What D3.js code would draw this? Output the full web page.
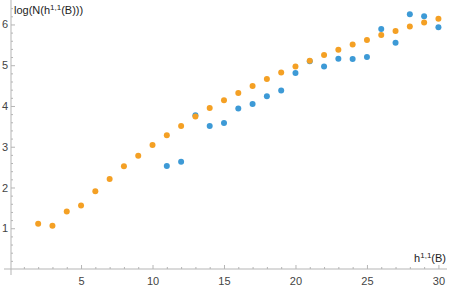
<!DOCTYPE html>
<html>
<head>
<meta charset="utf-8">
<script src="https://cdn.jsdelivr.net/npm/d3@7"></script>
<style>
  body { margin: 0; background: #fff; }
  text { font-family: "Liberation Sans", Arial, sans-serif; }
</style>
</head>
<body>
<div id="chart-container"></div>
<script>
// h^{1,1}(B) values and log counts
let orangeX = d3.range(2, 31),
    orangeY = [1.11, 1.06, 1.41, 1.56, 1.91, 2.21, 2.52, 2.78, 3.04, 3.28,
               3.51, 3.74, 3.95, 4.14, 4.32, 4.49, 4.66, 4.82, 4.97, 5.11,
               5.25, 5.38, 5.51, 5.62, 5.74, 5.84, 5.95, 6.05, 6.14],
    blueX = d3.range(11, 31),
    blueY = [2.53, 2.63, 3.77, 3.51, 3.58, 3.94, 4.05, 4.24, 4.38, 4.81,
             5.10, 4.97, 5.16, 5.15, 5.20, 5.89, 5.55, 6.25, 6.20, 5.93],
    xMajor = [5, 10, 15, 20, 25, 30],
    yMajor = [1, 2, 3, 4, 5, 6];

let width = 449, height = 289,
    svg = d3.select("#chart-container").append("svg").attr("width", width).attr("height", height);

let x = d3.scaleLinear().domain([0.1, 30.6]).range([11, 447]),
    y = d3.scaleLinear().domain([0, 6.6]).range([269, 0]);

let axisColor = "#b5b5b5", labelColor = "#444";

let xMinor = d3.range(1, 31).filter(d => d % 5 !== 0),
    yMinor = d3.range(1, 33).map(d => d / 5).filter(d => Math.abs(d - Math.round(d)) > 1e-6);

// axis lines, crossing a little like Mathematica's
svg.append("line").attr("x1", 4).attr("x2", x(30.6)).attr("y1", y(0)).attr("y2", y(0)).attr("stroke", axisColor);
svg.append("line").attr("x1", x(0.1)).attr("x2", x(0.1)).attr("y1", 0).attr("y2", y(0) + 6).attr("stroke", axisColor);

// x axis
let gx = svg.append("g").attr("transform", `translate(0,${y(0)})`);
gx.call(d3.axisBottom(x).tickValues(xMinor).tickSize(-2).tickFormat(""));
gx.call(g => g.selectAll(".domain").remove());
let gx2 = svg.append("g").attr("transform", `translate(0,${y(0)})`);
gx2.call(d3.axisBottom(x).tickValues(xMajor).tickSizeInner(-4).tickSizeOuter(0).tickPadding(8));
gx2.select(".domain").remove();
gx2.selectAll("text").attr("fill", labelColor).attr("font-size", 11);

// y axis
let gy = svg.append("g").attr("transform", `translate(${x(0.1)},0)`);
gy.call(d3.axisLeft(y).tickValues(yMinor).tickSize(-2).tickFormat(""));
gy.call(g => g.selectAll(".domain").remove());
let gy2 = svg.append("g").attr("transform", `translate(${x(0.1)},0)`);
gy2.call(d3.axisLeft(y).tickValues(yMajor).tickSizeInner(-4).tickSizeOuter(0).tickPadding(3).tickFormat(d3.format("d")));
gy2.select(".domain").remove();
gy2.selectAll("text").attr("fill", labelColor).attr("font-size", 11);

svg.selectAll("g .tick line").attr("stroke", axisColor);

// axis labels
let yl = svg.append("text").attr("x", 14).attr("y", 14).attr("font-size", 11).attr("fill", "#222");
yl.append("tspan").text("log(N(h");
yl.append("tspan").attr("font-size", 8).attr("dy", -4).text("1,1");
yl.append("tspan").attr("dy", 4).text("(B)))");

let xl = svg.append("text").attr("x", 446).attr("y", 262).attr("text-anchor", "end")
    .attr("font-size", 11).attr("fill", "#222");
xl.append("tspan").text("h");
xl.append("tspan").attr("font-size", 8).attr("dy", -4).text("1,1");
xl.append("tspan").attr("dy", 4).text("(B)");

// points
svg.append("g").selectAll("circle")
    .data(blueX.map((d, i) => [d, blueY[i]]))
    .join("circle")
    .attr("cx", d => x(d[0]))
    .attr("cy", d => y(d[1]))
    .attr("r", 3)
    .attr("fill", "#3d9ad6");

svg.append("g").selectAll("circle")
    .data(orangeX.map((d, i) => [d, orangeY[i]]))
    .join("circle")
    .attr("cx", d => x(d[0]))
    .attr("cy", d => y(d[1]))
    .attr("r", 3)
    .attr("fill", "#f4a024");
</script>
</body>
</html>
